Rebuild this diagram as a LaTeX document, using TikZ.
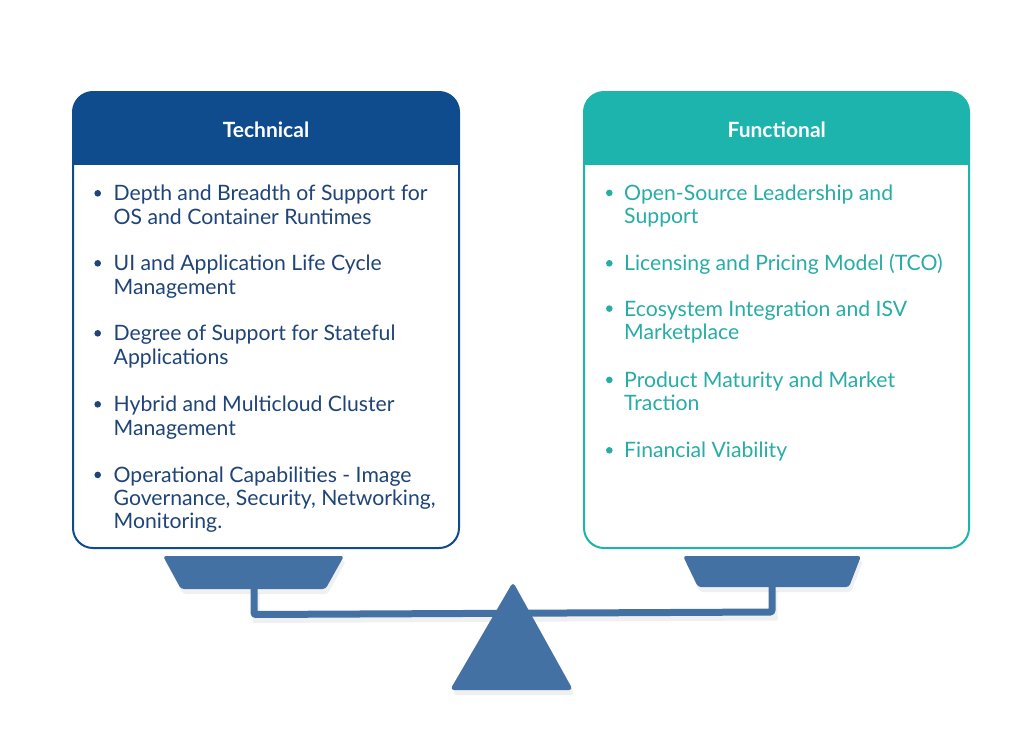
\documentclass[tikz,border=0pt]{standalone}
\usepackage{fontspec}
\setmainfont{Lato}
\definecolor{navy}{HTML}{0F4C8D}
\definecolor{navytext}{HTML}{1F4478}
\definecolor{tealhead}{HTML}{1DB4AD}
\definecolor{tealtext}{HTML}{27ADA6}
\definecolor{scalecol}{HTML}{4471A4}
\begin{document}
\begin{tikzpicture}[x=1pt,y=-1pt,
  itemtext/.style={anchor=base west, align=left, inner sep=0pt, font=\fontsize{21.2}{23.3}\selectfont},
  headtext/.style={anchor=base, inner sep=0pt, text=white, font=\fontsize{21}{23.3}\selectfont\bfseries},
  scaleshape/.style={fill=scalecol, rounded corners=3},
  shadowshape/.style={fill=black, opacity=0.06, rounded corners=3}]
\useasboundingbox (0,0) rectangle (1024,728);
\fill[white] (0,0) rectangle (1024,728);

% ---------- left box ----------
\begin{scope}
  \clip[rounded corners=20] (73,92) rectangle (459,548);
  \fill[navy] (73,92) rectangle (459,165);
\end{scope}
\draw[navy, line width=2, rounded corners=20] (73,92) rectangle (459,548);
\node[headtext] (tech) at (266,137.3) {Technical};

% anchors are at the baseline of the last line of each item
\begin{scope}[text=navytext]
\node[itemtext] (t1) at (113.5,224) {Depth and Breadth of Support for\\OS and Container Runtimes};
\node[itemtext] (t2) at (113.5,294) {UI and Application Life Cycle\\Management};
\node[itemtext] (t3) at (113.5,364) {Degree of Support for Stateful\\Applications};
\node[itemtext] (t4) at (113.5,435) {Hybrid and Multicloud Cluster\\Management};
\node[itemtext] (t5) at (113.5,528.9) {Operational Capabilities - Image\\Governance, Security, Networking,\\Monitoring.};
\end{scope}
\foreach \yy in {200.7,270.7,340.7,411.7,482.3}
  \fill[navytext] (97.7,\yy-7.4) circle (3.3);

% ---------- right box ----------
\begin{scope}
  \clip[rounded corners=20] (584,92) rectangle (969,548);
  \fill[tealhead] (584,92) rectangle (969,165);
\end{scope}
\draw[tealhead, line width=2, rounded corners=20] (584,92) rectangle (969,548);
\node[headtext] (func) at (776.7,137.3) {Functional};

\begin{scope}[text=tealtext]
\node[itemtext] (f1) at (624,223.6) {Open-Source Leadership and\\Support};
\node[itemtext] (f2) at (624,270.7) {Licensing and Pricing Model (TCO)};
\node[itemtext] (f3) at (624,339.3) {Ecosystem Integration and ISV\\Marketplace};
\node[itemtext] (f4) at (624,410.6) {Product Maturity and Market\\Traction};
\node[itemtext] (f5) at (624,457.7) {Financial Viability};
\end{scope}
\foreach \yy in {200.3,270.7,316,387.3,457.7}
  \fill[tealtext] (609.3,\yy-7.4) circle (3.3);

% ---------- scale: shadows ----------
\begin{scope}[shift={(2,5)}]
  \fill[shadowshape] (163,556) -- (344,556) -- (325.5,589) -- (181,589) -- cycle;
  \fill[shadowshape] (683,556) -- (861,556) -- (849,587) -- (698,587) -- cycle;
  \draw[black, opacity=0.06, line width=7] (254,588) -- (254,614.5) -- (772,612) -- (772,586);
  \fill[shadowshape, rounded corners=4] (513,582) -- (573,690) -- (450,690) -- cycle;
\end{scope}

% ---------- scale ----------
\fill[scaleshape] (163,556) -- (344,556) -- (325.5,589) -- (181,589) -- cycle;
\fill[scaleshape] (683,556) -- (861,556) -- (849,587) -- (698,587) -- cycle;
\draw[scalecol, line width=7, rounded corners=2] (254,588) -- (254,614.5) -- (772,612) -- (772,586);
\fill[scaleshape, rounded corners=4] (513,582) -- (573,690) -- (450,690) -- cycle;
\end{tikzpicture}
\end{document}
